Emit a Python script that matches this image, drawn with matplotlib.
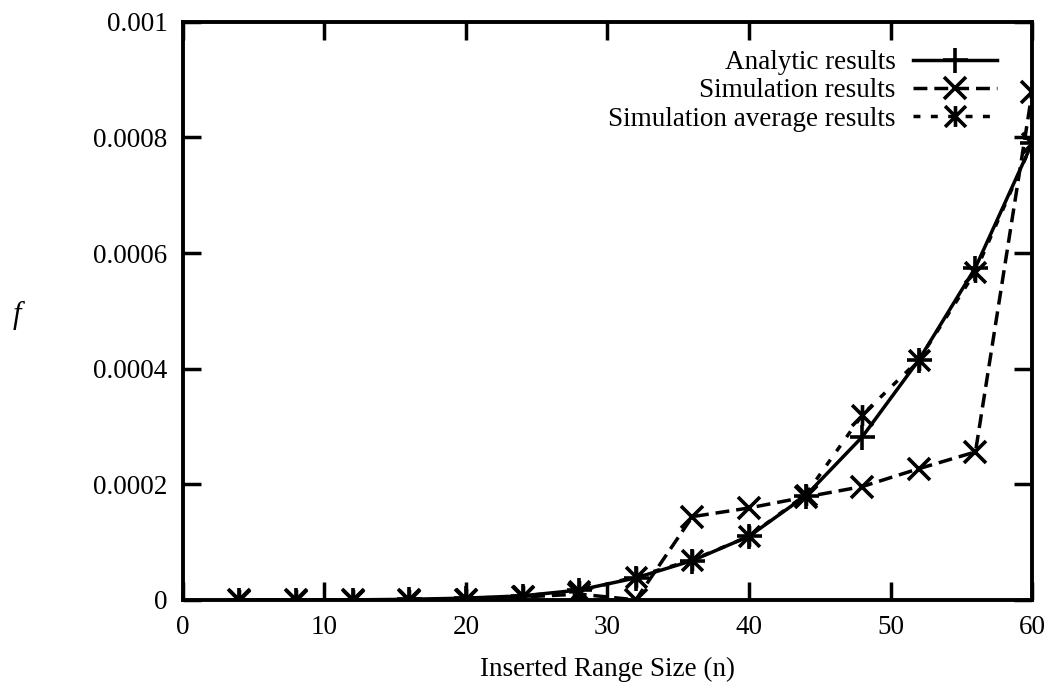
import matplotlib
matplotlib.use("Agg")
import matplotlib.pyplot as plt
from matplotlib.path import Path


# DATA
n = [4, 8, 12, 16, 20, 24, 28, 32, 36, 40, 44, 48, 52, 56, 60]
analytic = [0, 0, 0, 1e-6, 3e-6, 7e-6, 1.7e-5, 3.8e-5, 6.8e-5, 1.1e-4,
            1.8e-4, 2.82e-4, 4.15e-4, 5.75e-4, 7.9e-4]
simulation = [0, 0, 0, 0, 0, 5e-6, 1e-5, 0, 1.44e-4, 1.59e-4,
              1.78e-4, 1.96e-4, 2.27e-4, 2.56e-4, 8.78e-4]
sim_average = [0, 0, 0, 0, 2e-6, 7e-6, 1.5e-5, 4e-5, 6.9e-5, 1.1e-4,
               1.82e-4, 3.2e-4, 4.15e-4, 5.68e-4, 7.9e-4]
x_ticks = [0, 10, 20, 30, 40, 50, 60]
y_ticks = [0, 0.0002, 0.0004, 0.0006, 0.0008, 0.001]
y_labels = ["0", "0.0002", "0.0004", "0.0006", "0.0008", "0.001"]


# gnuplot style star: vertical bar plus an x
star = Path([(0, -1), (0, 1), (-1, -1), (1, 1), (-1, 1), (1, -1)],
            [Path.MOVETO, Path.LINETO, Path.MOVETO, Path.LINETO, Path.MOVETO, Path.LINETO])

plt.rcParams["font.family"] = ["Liberation Serif", "DejaVu Serif"]
plt.rcParams["font.size"] = 19.5

fig = plt.figure(figsize=(10.51, 6.84), dpi=100)
ax = fig.add_axes([0.174, 0.123, 0.808, 0.845])

ax.plot(n, analytic, color="black", lw=2.5, marker="+", markersize=18, mew=2.6,
        label="Analytic results")
ax.plot(n, simulation, color="black", lw=2.5, dashes=(4, 2), marker="x", markersize=16, mew=2.6,
        label="Simulation results")
ax.plot(n, sim_average, color="black", lw=2.5, dashes=(2, 3), marker=star, markersize=15, mew=2.6,
        label="Simulation average results")

ax.set_xlim(0, 60)
ax.set_ylim(0, 0.001)
ax.set_xticks(x_ticks)
ax.set_yticks(y_ticks)
ax.set_yticklabels(y_labels)
ax.tick_params(direction="in", length=13, width=2.5, top=True, right=True, pad=11)
for s in ax.spines.values():
    s.set_linewidth(2.8)

ax.set_xlabel("Inserted Range Size (n)", labelpad=12)
fig.text(17 / 1051, 1 - 315 / 684, "f", style="italic", fontsize=22, ha="center", va="center")

ax.legend(loc="upper right", frameon=False, markerfirst=False, handlelength=3.1,
          bbox_to_anchor=(997 / 1051, 1 - 50 / 684), bbox_transform=fig.transFigure,
          borderaxespad=0, borderpad=0, labelspacing=0.12, handletextpad=0.65)

fig.savefig("out.png", dpi=100)
